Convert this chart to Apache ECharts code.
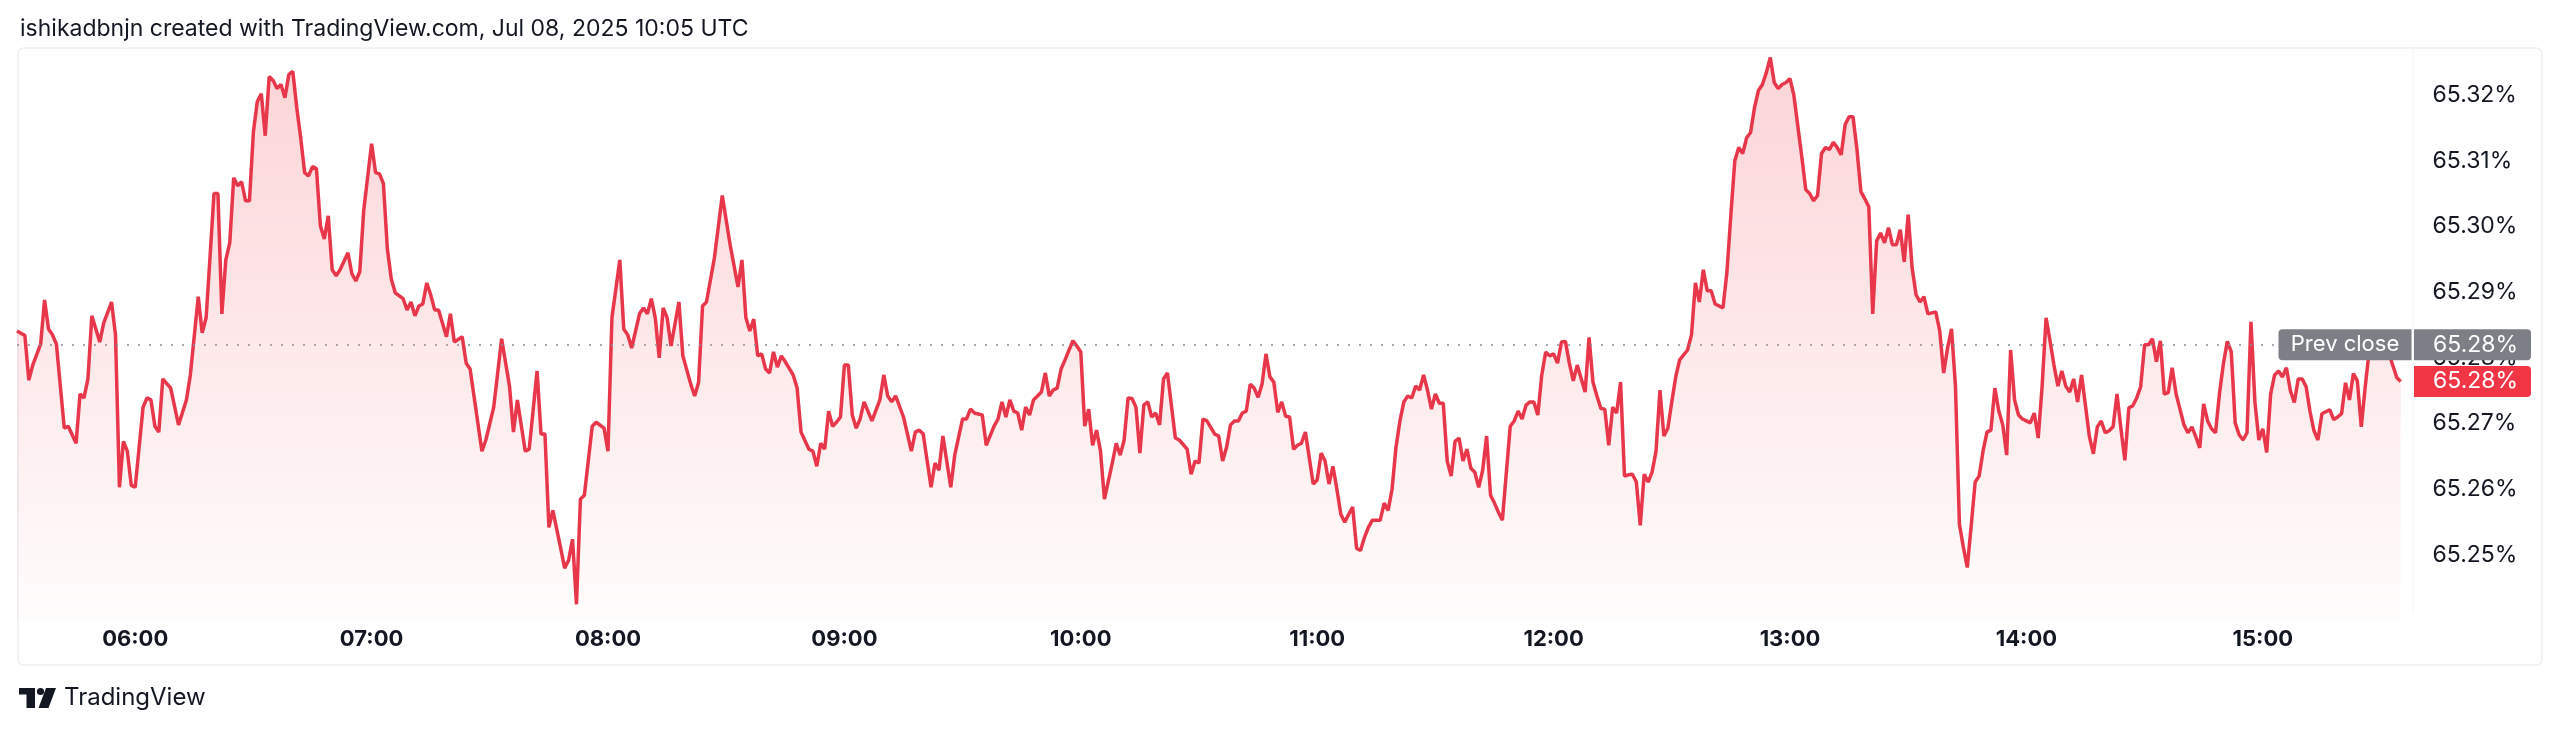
<!DOCTYPE html>
<html>
<head>
<meta charset="utf-8">
<title>Yield intraday</title>
<script src="https://cdn.jsdelivr.net/npm/echarts@6/dist/echarts.min.js"></script>
<style>
  html, body { margin: 0; padding: 0; background: #fff; }
  #chart { width: 2560px; height: 733px; }
</style>
</head>
<body>
<div id="chart"></div>
<script>
// session opens 05:30 local time; points are [minutes after open, yield %]
const sessionOpen = 330;
const prevClose = 65.282;

const seg1 = [[0,65.2841],[2,65.2834],[3,65.2766],[4,65.2789],[6,65.2821],[7,65.2888],[8,65.2844],[9,65.2835],[10,65.2821],[12,65.2693],[13,65.2696],[15,65.2670],[16,65.2745],[17,65.2739],[18,65.2768],[19,65.2864],[21,65.2824],[22,65.2853],[24,65.2885],[25,65.2835],[26,65.2603],[27,65.2673],[28,65.2658],[29,65.2606],[30,65.2603],[32,65.2725],[33,65.2739],[34,65.2736],[35,65.2696],[36,65.2687],[37,65.2768],[39,65.2754],[41,65.2698],[43,65.2736],[44,65.2774],[46,65.2893],[47,65.2838],[48,65.2861],[49,65.2954],[50,65.3050],[51,65.3050],[52,65.2867],[53,65.2949],[54,65.2975],[55,65.3074],[56,65.3062],[57,65.3068],[58,65.3039],[59,65.3039],[60,65.3144],[61,65.3190],[62,65.3202],[63,65.3138],[64,65.3228],[65,65.3222],[66,65.3210],[67,65.3216],[68,65.3196],[69,65.3231],[70,65.3236],[71,65.3181],[72,65.3135],[73,65.3082],[74,65.3077],[75,65.3091],[76,65.3088],[77,65.3001],[78,65.2981],[79,65.3016],[80,65.2934],[81,65.2925],[82,65.2934],[84,65.2960],[85,65.2928],[86,65.2917],[87,65.2931],[88,65.3024],[90,65.3126],[91,65.3082],[92,65.3080],[93,65.3065],[94,65.2966],[95,65.2920],[96,65.2899],[98,65.2890],[99,65.2873],[100,65.2885],[101,65.2864],[102,65.2879],[103,65.2882],[104,65.2914],[105,65.2896],[106,65.2873],[107,65.2873],[109,65.2832],[110,65.2867],[111,65.2824],[113,65.2832],[114,65.2792],[115,65.2783],[118,65.2658],[119,65.2675],[121,65.2725],[123,65.2829],[125,65.2757],[126,65.2687],[127,65.2736],[129,65.2658],[130,65.2661],[132,65.2780],[133,65.2684],[134,65.2684],[135,65.2542],[136,65.2568],[138,65.2510],[139,65.2480],[140,65.2492],[141,65.2524],[142,65.2425],[143,65.2585],[144,65.2591],[146,65.2696],[147,65.2702],[149,65.2693],[150,65.2658],[151,65.2861],[153,65.2949],[154,65.2844],[155,65.2835],[156,65.2815],[158,65.2867],[159,65.2876],[160,65.2867],[161,65.2890],[162,65.2861],[163,65.2800],[164,65.2876],[165,65.2861],[166,65.2818],[168,65.2885],[169,65.2803],[171,65.2760],[172,65.2742]];

const seg2 = [[173,65.2763],[174,65.2879],[175,65.2885],[177,65.2952],[179,65.3047],[181,65.2972],[183,65.2908],[184,65.2949],[185,65.2861],[186,65.2841],[187,65.2859],[188,65.2803],[189,65.2806],[190,65.2783],[191,65.2777],[192,65.2809],[193,65.2786],[194,65.2803],[195,65.2794],[197,65.2774],[198,65.2754],[199,65.2687],[201,65.2661],[202,65.2658],[203,65.2635],[204,65.2670],[205,65.2661],[206,65.2719],[207,65.2696],[208,65.2702],[209,65.2710],[210,65.2789],[211,65.2789],[212,65.2713],[213,65.2693],[214,65.2707],[215,65.2733],[217,65.2704],[219,65.2736],[220,65.2774],[221,65.2742],[222,65.2733],[223,65.2742],[225,65.2710],[227,65.2658],[228,65.2687],[229,65.2690],[230,65.2684],[232,65.2603],[233,65.2640],[234,65.2629],[235,65.2681],[237,65.2603],[238,65.2652],[240,65.2707],[241,65.2707],[242,65.2722],[243,65.2716],[245,65.2713],[246,65.2667],[248,65.2696],[249,65.2707],[250,65.2733],[251,65.2710],[252,65.2736],[253,65.2719],[254,65.2716],[255,65.2690],[256,65.2725],[257,65.2713],[258,65.2736],[260,65.2748],[261,65.2777],[262,65.2742],[263,65.2751],[264,65.2754],[265,65.2783],[266,65.2797],[268,65.2826],[269,65.2818],[270,65.2809],[271,65.2696],[272,65.2722],[273,65.2667],[274,65.2690],[275,65.2658],[276,65.2585],[278,65.2640],[279,65.2670],[280,65.2652],[281,65.2675],[282,65.2739],[283,65.2738],[284,65.2725],[285,65.2655],[286,65.2728],[287,65.2733],[288,65.2710],[289,65.2716],[290,65.2698],[291,65.2768],[292,65.2777],[294,65.2678],[295,65.2675],[297,65.2661],[298,65.2623],[299,65.2643],[300,65.2640],[301,65.2707],[302,65.2704],[304,65.2684],[305,65.2681],[306,65.2643],[307,65.2664],[308,65.2698],[309,65.2704],[310,65.2704],[311,65.2716],[312,65.2719],[313,65.2760],[314,65.2754],[315,65.2740],[316,65.2760],[317,65.2806],[318,65.2771],[319,65.2763],[320,65.2717],[321,65.2733],[322,65.2711],[323,65.2710],[324,65.2661],[325,65.2667],[326,65.2670],[327,65.2687],[329,65.2608],[330,65.2614],[331,65.2655],[332,65.2643],[333,65.2608],[334,65.2635],[335,65.2600],[336,65.2562],[337,65.2550],[338,65.2562],[339,65.2573],[340,65.2510],[341,65.2507],[342,65.2527],[343,65.2542],[344,65.2553],[346,65.2553]];

const seg3 = [[347,65.2579],[348,65.2568],[349,65.2600],[350,65.2664],[351,65.2704],[352,65.2733],[353,65.2742],[354,65.2739],[355,65.2757],[356,65.2751],[357,65.2774],[358,65.2751],[359,65.2722],[360,65.2745],[361,65.2731],[362,65.2731],[363,65.2643],[364,65.2620],[365,65.2673],[366,65.2678],[367,65.2643],[368,65.2661],[369,65.2632],[370,65.2626],[371,65.2603],[372,65.2629],[373,65.2681],[374,65.2591],[375,65.2579],[376,65.2565],[377,65.2553],[379,65.2696],[380,65.2704],[381,65.2719],[382,65.2707],[383,65.2728],[384,65.2733],[385,65.2733],[386,65.2713],[387,65.2774],[388,65.2809],[389,65.2803],[390,65.2806],[391,65.2792],[392,65.2824],[393,65.2825],[394,65.2792],[395,65.2765],[396,65.2789],[398,65.2748],[399,65.2831],[400,65.2763],[401,65.2742],[402,65.2723],[403,65.2722],[404,65.2667],[405,65.2725],[406,65.2716],[407,65.2763],[408,65.2620],[409,65.2622],[410,65.2623],[411,65.2611],[412,65.2545],[413,65.2623],[414,65.2611],[415,65.2626],[416,65.2658],[417,65.2751],[418,65.2681],[419,65.2693],[420,65.2733],[421,65.2771],[422,65.2797],[424,65.2812],[425,65.2835],[426,65.2914],[427,65.2885],[428,65.2934],[429,65.2902],[430,65.2902],[431,65.2882],[433,65.2876],[434,65.2931],[435,65.3018],[436,65.3100],[437,65.3120],[438,65.3111],[439,65.3135],[440,65.3143],[441,65.3181],[442,65.3207],[443,65.3216],[444,65.3234],[445,65.3257],[446,65.3219],[447,65.3210],[448,65.3216],[449,65.3219],[450,65.3225],[451,65.3199],[452,65.3152],[453,65.3106],[454,65.3056],[455,65.3050],[456,65.3039],[457,65.3047],[458,65.3111],[459,65.3120],[460,65.3117],[461,65.3128],[462,65.3120],[463,65.3109],[464,65.3155],[465,65.3167],[466,65.3167],[467,65.3117],[468,65.3053],[469,65.3042],[470,65.3030],[471,65.2867],[472,65.2978],[473,65.2990],[474,65.2975],[475,65.2998],[476,65.2972],[477,65.2972],[478,65.2995],[479,65.2946],[480,65.3018],[481,65.2937],[482,65.2896],[483,65.2885],[484,65.2893],[485,65.2867],[487,65.2870],[488,65.2841],[489,65.2777],[490,65.2815],[491,65.2844],[492,65.2757],[493,65.2547],[494,65.2512],[495,65.2481],[496,65.2545],[497,65.2611],[498,65.2620],[499,65.2658],[500,65.2687],[501,65.2690],[502,65.2754],[503,65.2719],[504,65.2698],[505,65.2652],[506,65.2812],[507,65.2736],[508,65.2713],[509,65.2707],[510,65.2704],[511,65.2701],[512,65.2716],[513,65.2678],[514,65.2757],[515,65.2861],[516,65.2826],[517,65.2789],[518,65.2757],[519,65.2780],[520,65.2757],[521,65.2748],[522,65.2768],[523,65.2733],[524,65.2774]];

const seg4 = [[525,65.2727],[526,65.2680],[527,65.2654],[528,65.2695],[529,65.2704],[530,65.2686],[531,65.2689],[532,65.2695],[533,65.2745],[534,65.2692],[535,65.2644],[536,65.2724],[537,65.2727],[538,65.2739],[539,65.2756],[540,65.2820],[541,65.2820],[542,65.2829],[543,65.2794],[544,65.2826],[545,65.2745],[546,65.2747],[547,65.2785],[548,65.2745],[550,65.2698],[551,65.2686],[552,65.2695],[553,65.2680],[554,65.2663],[555,65.2730],[556,65.2704],[557,65.2692],[558,65.2686],[559,65.2745],[560,65.2791],[561,65.2825],[562,65.2809],[563,65.2701],[564,65.2683],[565,65.2675],[566,65.2686],[567,65.2855],[568,65.2733],[569,65.2675],[570,65.2692],[571,65.2656],[572,65.2745],[573,65.2774],[574,65.2780],[575,65.2771],[576,65.2785],[577,65.2750],[578,65.2732],[579,65.2768],[580,65.2768],[581,65.2756],[582,65.2718],[583,65.2689],[584,65.2675],[585,65.2715],[587,65.2721],[588,65.2706],[589,65.2710],[590,65.2715],[591,65.2762],[592,65.2736],[593,65.2776],[594,65.2765],[595,65.2695],[596,65.2756],[597,65.2810],[598,65.2820],[600,65.2833],[602,65.2807],[604,65.2770],[605,65.2764]];

const FONT = 'Inter, Roboto, sans-serif';
const RED = '#e8364b';
const TEXT = '#131722';

const points = [].concat(seg1, seg2, seg3, seg4).map(p => [sessionOpen + p[0], p[1]]);
const lastValue = points[points.length - 1][1];

function hhmm(v) {
  const h = Math.floor(v / 60);
  return (h < 10 ? '0' : '') + h + ':00';
}

const chart = echarts.init(document.getElementById('chart'));
chart.setOption({
  animation: false,
  backgroundColor: '#fff',
  grid: { left: 17, right: 147.5, top: 29.3, bottom: 112.3 },
  xAxis: {
    type: 'value',
    min: 330,
    max: 938,
    interval: 30,
    axisLine: { show: false },
    axisTick: { show: false },
    splitLine: { show: false },
    axisLabel: {
      margin: 8,
      fontFamily: FONT,
      fontSize: 22,
      fontWeight: 'bold',
      color: TEXT,
      formatter: v => (v % 60 === 0 ? hhmm(v) : '')
    }
  },
  yAxis: {
    type: 'value',
    position: 'right',
    min: 65.24,
    max: 65.33,
    interval: 0.01,
    axisLine: { show: false },
    axisTick: { show: false },
    splitLine: { show: false },
    axisLabel: {
      margin: 20,
      showMinLabel: false,
      showMaxLabel: false,
      fontFamily: FONT,
      fontSize: 23,
      color: TEXT,
      formatter: v => v.toFixed(2) + '%'
    }
  },
  series: [{
    type: 'line',
    data: points,
    symbol: 'none',
    lineStyle: { color: RED, width: 3.5 },
    areaStyle: {
      color: new echarts.graphic.LinearGradient(0, 0, 0, 1, [
        { offset: 0, color: 'rgba(242,54,69,0.30)' },
        { offset: 1, color: 'rgba(242,54,69,0.02)' }
      ])
    },
    markLine: {
      silent: true,
      precision: 4,
      symbol: ['none', 'none'],
      label: { show: false },
      lineStyle: { color: '#8a8d97', type: [2, 9], width: 1.5 },
      data: [{ yAxis: prevClose }]
    }
  }]
});

// overlay: frame, header, price tags, logo
const gx = chart.convertToPixel({ xAxisIndex: 0 }, 938);
const yPrev = chart.convertToPixel({ yAxisIndex: 0 }, prevClose);
const yLast = chart.convertToPixel({ yAxisIndex: 0 }, lastValue);
const tagH = 31;

chart.setOption({
  graphic: [
    { type: 'rect', z: 1, shape: { x: 18, y: 48, width: 2524, height: 617, r: 6 },
      style: { fill: 'none', stroke: '#eef0f3', lineWidth: 1.5 } },
    { type: 'line', z: 1, shape: { x1: gx + 0.5, y1: 48, x2: gx + 0.5, y2: 612 },
      style: { stroke: '#f3f4f6', lineWidth: 1 } },
    { type: 'text', z: 10, x: 20, y: 29,
      style: { text: 'ishikadbnjn created with TradingView.com, Jul 08, 2025 10:05 UTC',
        fontFamily: FONT, fontSize: 23, fill: TEXT, verticalAlign: 'middle', align: 'left' } },

    { type: 'rect', z: 100, shape: { x: gx - 134, y: yPrev - tagH / 2, width: 133, height: tagH, r: [4, 0, 0, 4] },
      style: { fill: '#7d7f86' } },
    { type: 'text', z: 101, x: gx - 67.5, y: yPrev,
      style: { text: 'Prev close', fontFamily: FONT, fontSize: 22, fill: '#fff', align: 'center', verticalAlign: 'middle' } },
    { type: 'rect', z: 100, shape: { x: gx + 1.5, y: yPrev - tagH / 2, width: 117, height: tagH, r: [0, 4, 4, 0] },
      style: { fill: '#7d7f86' } },
    { type: 'text', z: 101, x: gx + 20.5, y: yPrev,
      style: { text: prevClose.toFixed(2) + '%', fontFamily: FONT, fontSize: 23, fill: '#fff', align: 'left', verticalAlign: 'middle' } },
    { type: 'rect', z: 100, shape: { x: gx + 1.5, y: yLast - tagH / 2, width: 117, height: tagH, r: [0, 4, 4, 0] },
      style: { fill: '#f23645' } },
    { type: 'text', z: 101, x: gx + 20.5, y: yLast,
      style: { text: lastValue.toFixed(2) + '%', fontFamily: FONT, fontSize: 23, fill: '#fff', align: 'left', verticalAlign: 'middle' } },

    { type: 'rect', z: 10, shape: { x: 19, y: 688, width: 16, height: 6.5 }, style: { fill: TEXT } },
    { type: 'rect', z: 10, shape: { x: 26.5, y: 688, width: 8.5, height: 20 }, style: { fill: TEXT } },
    { type: 'circle', z: 10, shape: { cx: 40.5, cy: 691.5, r: 3.6 }, style: { fill: TEXT } },
    { type: 'polygon', z: 10, shape: { points: [[46, 688], [56, 688], [48.5, 708], [38.5, 708]] }, style: { fill: TEXT } },
    { type: 'text', z: 10, x: 64, y: 698,
      style: { text: 'TradingView', fontFamily: FONT, fontSize: 24, fill: TEXT, align: 'left', verticalAlign: 'middle' } }
  ]
});
</script>
</body>
</html>
